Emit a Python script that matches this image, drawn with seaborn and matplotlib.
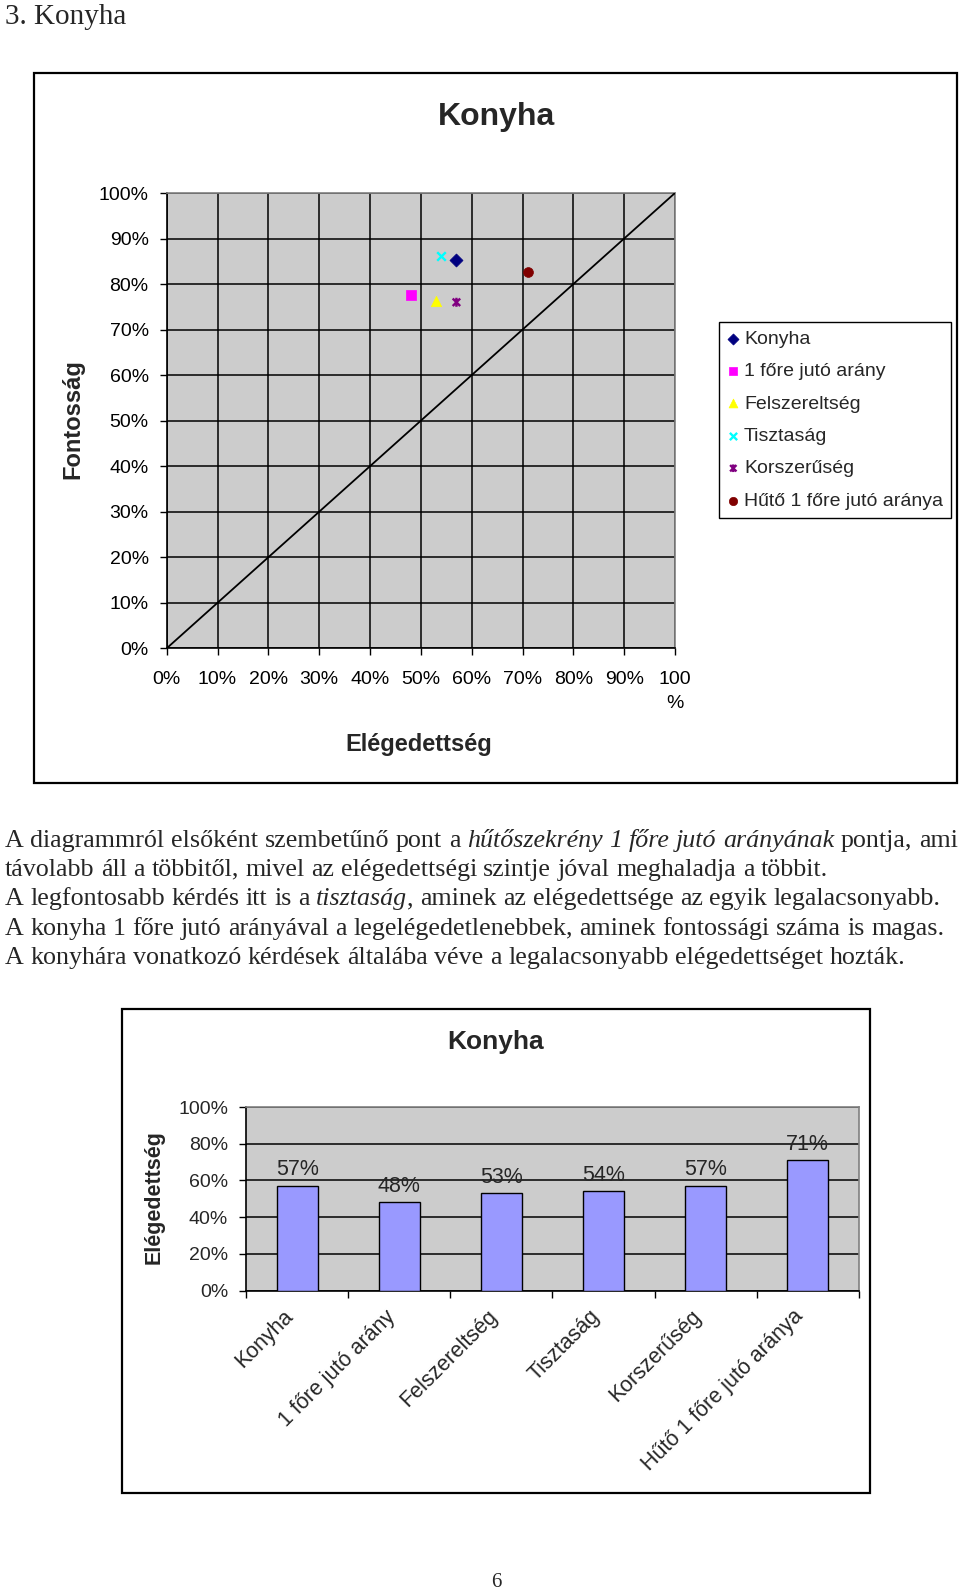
import numpy as np
import pandas as pd
import matplotlib
matplotlib.use("Agg")
import matplotlib.pyplot as plt
import seaborn as sns
from matplotlib.patches import Rectangle
from matplotlib.path import Path
from matplotlib.markers import MarkerStyle

# ---------------- data ----------------
categories = ["Konyha", "1 főre jutó arány", "Felszereltség", "Tisztaság",
              "Korszerűség", "Hűtő 1 főre jutó aránya"]
elegedettseg = [57, 48, 53, 54, 57, 71]          # satisfaction (x / bar height)
fontossag = [85.3, 77.6, 76.2, 86.2, 76.0, 82.7]  # importance (y)
diagonal = [0, 100]

scatter_ticks = [0, 10, 20, 30, 40, 50, 60, 70, 80, 90, 100]
scatter_ylabels = ["0%", "10%", "20%", "30%", "40%", "50%", "60%", "70%", "80%", "90%", "100%"]
scatter_xlabels = ["0%", "10%", "20%", "30%", "40%", "50%", "60%", "70%", "80%", "90%", "100\n%"]
bar_ticks = [0, 20, 40, 60, 80, 100]
bar_ylabels = ["0%", "20%", "40%", "60%", "80%", "100%"]
bar_value_labels = ["57%", "48%", "53%", "54%", "57%", "71%"]

heading = "3. Konyha"
chart_title = "Konyha"
page_number = "6"
paragraph = [
    [("A diagrammról elsőként szembetűnő pont a ", False),
     ("hűtőszekrény 1 főre jutó arányának", True), (" pontja, ami", False)],
    [("távolabb áll a többitől, mivel az elégedettségi szintje jóval meghaladja a többit.", False)],
    [("A legfontosabb kérdés itt is a ", False), ("tisztaság", True),
     (", aminek az elégedettsége az egyik legalacsonyabb.", False)],
    [("A konyha 1 főre jutó arányával a legelégedetlenebbek, aminek fontossági száma is magas.", False)],
    [("A konyhára vonatkozó kérdések általába véve a legalacsonyabb elégedettséget hozták.", False)],
]

# ---------------- styles ----------------
star_path = Path([(-1, -1), (1, 1), (-1, 1), (1, -1), (0, -1.2), (0, 1.2)],
                 [Path.MOVETO, Path.LINETO] * 3)
marker_map = {
    "Konyha": "D",
    "1 főre jutó arány": "s",
    "Felszereltség": "^",
    "Tisztaság": "x",
    "Korszerűség": star_path,
    "Hűtő 1 főre jutó aránya": "o",
}
color_map = {
    "Konyha": "#000080",
    "1 főre jutó arány": "#FF00FF",
    "Felszereltség": "#FFFF00",
    "Tisztaság": "#00FFFF",
    "Korszerűség": "#800080",
    "Hűtő 1 főre jutó aránya": "#800000",
}
size_map = {
    "Konyha": 44,
    "1 főre jutó arány": 48,
    "Felszereltség": 56,
    "Tisztaság": 38,
    "Korszerűség": 42,
    "Hűtő 1 főre jutó aránya": 50,
}

sns.set_theme(style="white")
SANS = ["Liberation Sans", "DejaVu Sans"]
SERIF = ["Liberation Serif", "DejaVu Serif"]
plt.rcParams["font.family"] = SANS

W, H = 960, 1590
fig = plt.figure(figsize=(W / 100, H / 100), dpi=100)
fig.patch.set_facecolor("white")
renderer = fig.canvas.get_renderer()


def fx(x):
    return x / W


def fy(y):
    return 1 - y / H


def add_axes_px(l, t, r, b):
    return fig.add_axes([fx(l), fy(b), (r - l) / W, (b - t) / H])


def frame(l, t, r, b, lw=1.6):
    fig.patches.append(Rectangle((fx(l), fy(b)), (r - l) / W, (b - t) / H,
                                 transform=fig.transFigure, fill=False,
                                 edgecolor="black", linewidth=lw, zorder=0))


def style_axes(ax):
    ax.set_facecolor("#CCCCCC")
    ax.grid(True, axis="y", color="black", linewidth=1.1)
    ax.set_axisbelow(True)
    for s in ["left", "bottom"]:
        ax.spines[s].set_color("black")
        ax.spines[s].set_linewidth(1.2)
    for s in ["top", "right"]:
        ax.spines[s].set_color("#808080")
        ax.spines[s].set_linewidth(1.2)
        ax.spines[s].set_visible(True)


# ================= Scatter chart =================
frame(34, 72.7, 957, 782.6)
fig.text(fx(496.5), fy(116.6), chart_title, ha="center", va="center",
         fontsize=23, fontweight="bold")

ax1 = add_axes_px(166.7, 193, 675, 648.3)
style_axes(ax1)
ax1.grid(True, axis="x", color="black", linewidth=1.1)
sns.lineplot(x=diagonal, y=diagonal, color="black", linewidth=1.3, ax=ax1, zorder=3)

for name, xv, yv in zip(categories, elegedettseg, fontossag):
    m = marker_map[name]
    c = color_map[name]
    ms = MarkerStyle(m)
    kw = dict(marker=m, color=c, s=size_map[name], label=name, ax=ax1, zorder=4)
    if isinstance(m, str) and ms.is_filled():
        kw["edgecolor"] = c
        kw["linewidth"] = 0.5
    elif isinstance(m, str):
        kw["linewidth"] = 1.7
    else:
        kw["edgecolor"] = c
        kw["facecolor"] = "none"
        kw["linewidth"] = 1.7
    sns.scatterplot(x=[xv], y=[yv], **kw)

ax1.set_xlim(0, 100)
ax1.set_ylim(0, 100)
ax1.set_xticks(scatter_ticks)
ax1.set_xticklabels(scatter_xlabels, fontsize=14, linespacing=1.6)
ax1.set_yticks(scatter_ticks)
ax1.set_yticklabels(scatter_ylabels, fontsize=14)
ax1.tick_params(axis="both", bottom=True, left=True, direction="out",
                length=5, width=1, color="black", labelcolor="black")
ax1.tick_params(axis="x", pad=11)
ax1.tick_params(axis="y", pad=8)
ax1.set_xlabel("")
ax1.set_ylabel("")
fig.text(fx(419), fy(745), "Elégedettség", ha="center", va="center",
         fontsize=17, fontweight="bold")
fig.text(fx(73), fy(419), "Fontosság", ha="center", va="center",
         rotation=90, fontsize=17, fontweight="bold")

leg = ax1.legend(loc="upper left", bbox_to_anchor=(fx(718.7), fy(322.4)),
                 bbox_transform=fig.transFigure, frameon=True, fancybox=False,
                 edgecolor="black", framealpha=1, fontsize=14, markerscale=0.85,
                 handletextpad=0.2, handlelength=0.7, borderpad=0.4,
                 labelspacing=0.76, borderaxespad=0, scatterpoints=1)
leg.get_frame().set_linewidth(1.0)

# ================= Bar chart =================
frame(121.6, 1008.6, 869.8, 1493.2)
fig.text(fx(495.7), fy(1042), chart_title, ha="center", va="center",
         fontsize=19, fontweight="bold")

ax2 = add_axes_px(246.3, 1107, 858.6, 1290.5)
style_axes(ax2)
df = pd.DataFrame({"kategoria": categories, "elegedettseg": elegedettseg})
sns.barplot(data=df, x="kategoria", y="elegedettseg", color="#9999FF",
            saturation=1, edgecolor="black", linewidth=1, width=0.4, ax=ax2,
            zorder=3)
ax2.bar_label(ax2.containers[0], labels=bar_value_labels, padding=4,
              fontsize=15.5)
n = len(categories)
ax2.set_xlim(-0.5, n - 0.5)
ax2.set_ylim(0, 100)
ax2.set_yticks(bar_ticks)
ax2.set_yticklabels(bar_ylabels, fontsize=14)
ax2.set_xticks(np.arange(n + 1) - 0.5)
ax2.set_xticklabels([])
ax2.set_xticks(np.arange(n), minor=True)
ax2.set_xticklabels(categories, minor=True, fontsize=15.5)
ax2.tick_params(axis="both", which="major", bottom=True, left=True,
                direction="out", length=5, width=1, color="black")
ax2.tick_params(axis="y", pad=8)
ax2.tick_params(axis="x", which="minor", bottom=True, length=0, pad=22)
for lab in ax2.get_xticklabels(minor=True):
    lab.set_rotation(45)
    lab.set_ha("right")
    lab.set_va("bottom")
    lab.set_rotation_mode("anchor")
ax2.set_xlabel("")
ax2.set_ylabel("")
fig.text(fx(154), fy(1197), "Elégedettség", ha="center", va="center",
         rotation=90, fontsize=15.5, fontweight="bold")

# ================= Document text =================
fig.text(fx(5), fy(24.5), heading, ha="left", va="baseline", fontsize=21,
         family=SERIF)
fig.text(fx(496.7), fy(1587), page_number, ha="center", va="baseline",
         fontsize=15, family=SERIF)


def tw(s, italic, size):
    t = fig.text(0, 0, s, fontsize=size, family=SERIF,
                 style="italic" if italic else "normal")
    w = t.get_window_extent(renderer).width
    t.remove()
    return w


def words_from_runs(runs):
    words = [[]]
    for text, it in runs:
        parts = text.split(" ")
        for i, p in enumerate(parts):
            if i > 0:
                words.append([])
            if p:
                words[-1].append((p, it))
    return [w for w in words if w]


def draw_line(runs, y_base, size, x0=5.0, width=None):
    words = words_from_runs(runs)
    widths = [sum(tw(p, it, size) for p, it in w) for w in words]
    space = tw("a a", False, size) - 2 * tw("a", False, size)
    if width is not None and len(words) > 1:
        space = (width - sum(widths)) / (len(words) - 1)
    x = x0
    for w, wd in zip(words, widths):
        xx = x
        for p, it in w:
            fig.text(fx(xx), fy(y_base), p, ha="left", va="baseline",
                     fontsize=size, family=SERIF,
                     style="italic" if it else "normal")
            xx += tw(p, it, size)
        x += wd + space


def natural_width(runs, size):
    words = words_from_runs(runs)
    widths = [sum(tw(p, it, size) for p, it in w) for w in words]
    space = tw("a a", False, size) - 2 * tw("a", False, size)
    return sum(widths) + space * (len(words) - 1)


# fit font size so that the 4th line spans its measured width on the page
base = 16.0
para_size = base * (943 - 5) / natural_width(paragraph[3], base)
baselines = [846.5, 875.8, 905.2, 934.6, 964.0]
for i, (runs, yb) in enumerate(zip(paragraph, baselines)):
    draw_line(runs, yb, para_size, width=(958 - 5) if i == 0 else None)

fig.savefig("out.png", dpi=100, facecolor="white")
